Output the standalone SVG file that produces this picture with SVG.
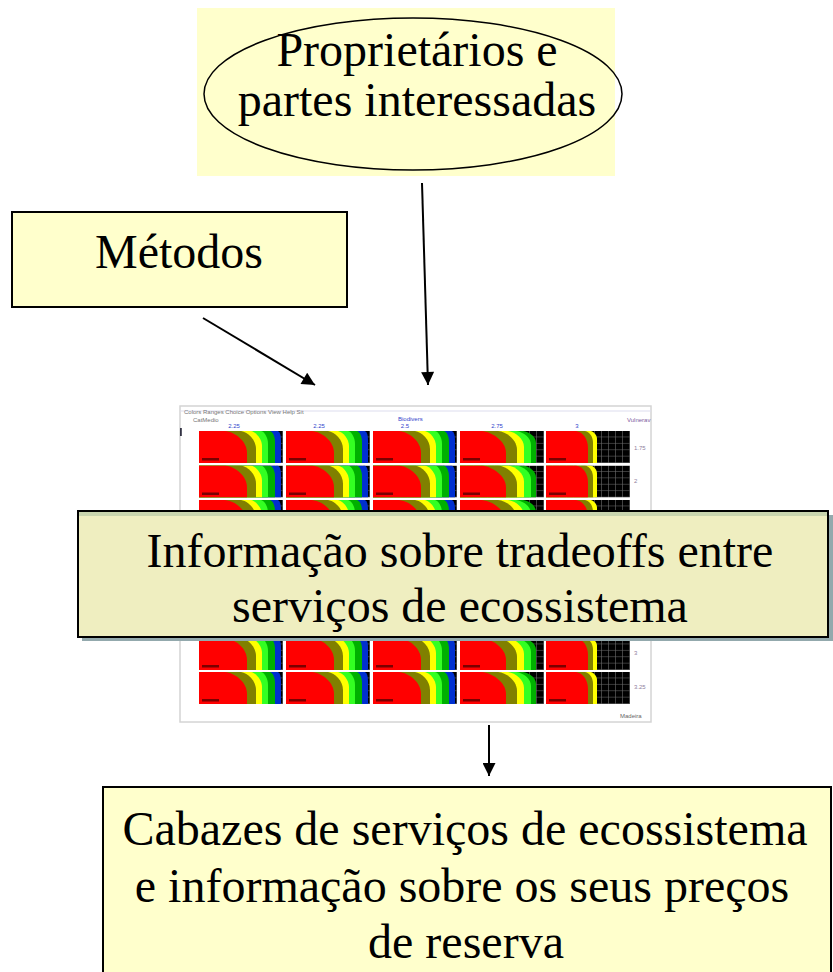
<svg xmlns="http://www.w3.org/2000/svg" xmlns:xlink="http://www.w3.org/1999/xlink" width="833" height="972" viewBox="0 0 833 972">
<style>
.big{font-family:"Liberation Serif","Times New Roman",serif;font-size:48px;fill:#000;text-anchor:middle}
.sm{font-family:"Liberation Sans",Arial,sans-serif;font-size:6px;fill:#777}
.blue{fill:#3344cc}
.conn{stroke:#000;stroke-width:2;fill:none}
.note{fill:#FFFFCC;stroke:#000;stroke-width:2}
</style>
<defs>
<marker id="ah" viewBox="0 0 10 10" refX="10" refY="5" orient="auto" markerUnits="userSpaceOnUse" markerWidth="14" markerHeight="13">
<path d="M0,0L10,5L0,10Z" fill="#000"/>
</marker>
<pattern id="grid" width="7" height="6.4" patternUnits="userSpaceOnUse">
<rect width="7" height="6.4" fill="#000"/>
<path d="M6.5,0V6.4M0,6H7" stroke="#6a6a6a" stroke-width="0.6"/>
</pattern>
<symbol id="cA" viewBox="0 0 84 32" width="84" height="32">
<rect width="84" height="32" fill="url(#grid)"/>
<path d="M0,0H79C81,1 82,4 82,9V32H0Z" fill="#0030d0"/>
<path d="M0,0H71C74,1 76,6 76,11V32H0Z" fill="#00b000"/>
<path d="M0,0H62C66,1 69,7 69,13V32H0Z" fill="#33ff22"/>
<path d="M0,0H52C57,1 63,8 63,15V32H0Z" fill="#ffff00"/>
<path d="M0,0H42C49,1 57,9 57,18V32H0Z" fill="#808000"/>
<path d="M0,0H26C36,1 48,10 48,22V32H0Z" fill="#ff0000"/>
<rect x="3" y="27" width="17" height="2.5" fill="#7a0000"/>
</symbol>
<symbol id="cB" viewBox="0 0 84 32" width="84" height="32">
<rect width="84" height="32" fill="url(#grid)"/>
<path d="M0,0H63C70,1 76,6 76,12V32H0Z" fill="#00b000"/>
<path d="M0,0H56C64,1 71,7 71,14V32H0Z" fill="#33ff22"/>
<path d="M0,0H48C56,1 64,8 64,16V32H0Z" fill="#ffff00"/>
<path d="M0,0H38C47,1 57,9 57,19V32H0Z" fill="#808000"/>
<path d="M0,0H22C32,1 46,10 46,22V32H0Z" fill="#ff0000"/>
<rect x="3" y="27" width="17" height="2.5" fill="#7a0000"/>
</symbol>
<symbol id="cC" viewBox="0 0 84 32" width="84" height="32">
<rect width="84" height="32" fill="url(#grid)"/>
<path d="M0,0H45C48,1 51,4 51,8V32H0Z" fill="#ffff00"/>
<path d="M0,0H39C44,1 47,6 47,12V32H0Z" fill="#808000"/>
<path d="M0,0H30C37,1 42,8 42,17V32H0Z" fill="#ff0000"/>
<rect x="3" y="27" width="17" height="2.5" fill="#7a0000"/>
</symbol>
</defs>
<rect width="833" height="972" fill="#fff"/>

<g id="chart">
<rect x="180" y="406" width="471" height="316" fill="#fff" stroke="#d4d4d4" stroke-width="1.5"/>
<line x1="180" y1="411" x2="651" y2="411" stroke="#dde" stroke-width="1"/>
<text class="sm" x="184" y="414" fill="#666">Colors   Ranges   Choice   Options   View   Help       Sit</text>
<text class="sm" x="193" y="422">CatMedio</text>
<text class="sm blue" x="398" y="421">Biodivers</text>
<text class="sm" x="627" y="422" style="fill:#8060a0">Vulnerav</text>
<text class="sm blue" x="234" y="428" text-anchor="middle">2.25</text>
<text class="sm blue" x="319" y="428" text-anchor="middle">2.25</text>
<text class="sm blue" x="405" y="428" text-anchor="middle">2.5</text>
<text class="sm blue" x="497" y="428" text-anchor="middle">2.75</text>
<text class="sm blue" x="577" y="428" text-anchor="middle">3</text>
<text class="sm" x="634" y="450" style="fill:#9080a0">1.75</text>
<text class="sm" x="634" y="483" style="fill:#9080a0">2</text>
<text class="sm" x="634" y="655" style="fill:#9080a0">3</text>
<text class="sm" x="634" y="689" style="fill:#9080a0">3.25</text>
<text class="sm" x="620" y="718" style="fill:#666">Madeira</text>
<rect x="180" y="428" width="1.8" height="8" fill="#334"/>
<g id="cells">
<use xlink:href="#cA" x="199" y="431"/><use xlink:href="#cA" x="286" y="431"/><use xlink:href="#cA" x="373" y="431"/><use xlink:href="#cB" x="460" y="431"/><use xlink:href="#cC" x="546" y="431"/>
<use xlink:href="#cA" x="199" y="465.5"/><use xlink:href="#cA" x="286" y="465.5"/><use xlink:href="#cA" x="373" y="465.5"/><use xlink:href="#cB" x="460" y="465.5"/><use xlink:href="#cC" x="546" y="465.5"/>
<use xlink:href="#cA" x="199" y="500"/><use xlink:href="#cA" x="286" y="500"/><use xlink:href="#cA" x="373" y="500"/><use xlink:href="#cB" x="460" y="500"/><use xlink:href="#cC" x="546" y="500"/>
<use xlink:href="#cA" x="199" y="534.5"/><use xlink:href="#cA" x="286" y="534.5"/><use xlink:href="#cA" x="373" y="534.5"/><use xlink:href="#cB" x="460" y="534.5"/><use xlink:href="#cC" x="546" y="534.5"/>
<use xlink:href="#cA" x="199" y="569"/><use xlink:href="#cA" x="286" y="569"/><use xlink:href="#cA" x="373" y="569"/><use xlink:href="#cB" x="460" y="569"/><use xlink:href="#cC" x="546" y="569"/>
<use xlink:href="#cA" x="199" y="603.5"/><use xlink:href="#cA" x="286" y="603.5"/><use xlink:href="#cA" x="373" y="603.5"/><use xlink:href="#cB" x="460" y="603.5"/><use xlink:href="#cC" x="546" y="603.5"/>
<use xlink:href="#cA" x="199" y="638"/><use xlink:href="#cA" x="286" y="638"/><use xlink:href="#cA" x="373" y="638"/><use xlink:href="#cB" x="460" y="638"/><use xlink:href="#cC" x="546" y="638"/>
<use xlink:href="#cA" x="199" y="672"/><use xlink:href="#cA" x="286" y="672"/><use xlink:href="#cA" x="373" y="672"/><use xlink:href="#cB" x="460" y="672"/><use xlink:href="#cC" x="546" y="672"/>
</g>
</g>

<g id="owners">
<rect x="197" y="8" width="418" height="168" fill="#FFFFCC"/>
<ellipse cx="413" cy="94" rx="209" ry="76" fill="none" stroke="#000" stroke-width="1.5"/>
<text class="big" x="417" y="66">Proprietários e</text>
<text class="big" x="417" y="116">partes interessadas</text>
</g>

<g id="methods">
<rect class="note" x="12" y="212" width="335" height="95"/>
<text class="big" x="179" y="268">Métodos</text>
</g>

<g id="tradeoffs">
<rect x="82" y="515" width="760" height="126" fill="#93a9ad"/>
<rect x="78" y="511" width="750" height="126" fill="#EFEEC0" stroke="#000" stroke-width="2"/>
<rect x="79" y="512" width="748" height="4" fill="#c9d5ae"/>
<text class="big" x="460" y="567">Informação sobre tradeoffs entre</text>
<text class="big" x="460" y="622">serviços de ecossistema</text>
</g>

<g id="baskets">
<rect class="note" x="103" y="787" width="728" height="200"/>
<text class="big" x="465" y="845">Cabazes de serviços de ecossistema</text>
<text class="big" x="462" y="902">e informação sobre os seus preços</text>
<text class="big" x="466" y="958">de reserva</text>
</g>

<g id="connectors">
<line class="conn" x1="203" y1="318" x2="315" y2="385" marker-end="url(#ah)"/>
<line class="conn" x1="422" y1="183" x2="428" y2="385" marker-end="url(#ah)"/>
<line class="conn" x1="489" y1="725" x2="489" y2="776" marker-end="url(#ah)"/>
</g>
</svg>
